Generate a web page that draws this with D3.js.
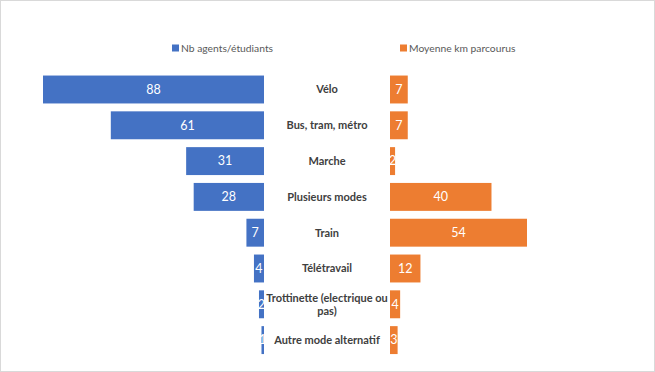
<!DOCTYPE html>
<html>
<head>
<meta charset="utf-8">
<script src="https://cdn.jsdelivr.net/npm/d3@7"></script>
<style>
  body { margin: 0; background: #fff; }
  svg { display: block; font-family: Lato, "Open Sans", sans-serif; }
</style>
</head>
<body>
<svg id="chart" width="655" height="372"></svg>
<script>
var categories = ["Vélo", "Bus, tram, métro", "Marche", "Plusieurs modes", "Train", "Télétravail", "Trottinette (electrique ou pas)", "Autre mode alternatif"];
var agents = [88, 61, 31, 28, 7, 4, 2, 1];
var kmMoyens = [7, 7, 2, 40, 54, 12, 4, 3];
var seriesNames = ["Nb agents/étudiants", "Moyenne km parcourus"];
var colors = ["#4472C4", "#ED7D31"];

var svg = d3.select("#chart");
var width = 655, height = 372;

// bordure du graphique
svg.append("rect")
  .attr("x", 0.5).attr("y", 0.5)
  .attr("width", width - 1).attr("height", height - 1)
  .attr("fill", "#fff")
  .attr("stroke", "#d9d9d9");

var y = d3.scaleBand()
  .domain(categories)
  .range([71.6, 358])
  .paddingInner(0.22)
  .paddingOuter(0.11);

var xLeft = d3.scaleLinear().domain([0, 88]).range([264, 43]);
var xRight = d3.scaleLinear().domain([0, 54]).range([390, 527]);

var data = categories.map((c, i) => ({cat: c, a: agents[i], km: kmMoyens[i]}));

// barres gauche
svg.append("g").selectAll("rect")
  .data(data).join("rect")
  .attr("x", d => xLeft(d.a))
  .attr("y", d => y(d.cat))
  .attr("width", d => xLeft(0) - xLeft(d.a))
  .attr("height", y.bandwidth())
  .attr("fill", colors[0]);

svg.append("g").selectAll("text")
  .data(data).join("text")
  .attr("x", d => (xLeft(0) + xLeft(d.a)) / 2)
  .attr("y", d => y(d.cat) + y.bandwidth() / 2)
  .attr("dy", "0.35em")
  .attr("text-anchor", "middle")
  .attr("fill", "#fff")
  .attr("font-size", 12.5)
  .text(d => d.a);

// barres droite
svg.append("g").selectAll("rect")
  .data(data).join("rect")
  .attr("x", xRight(0))
  .attr("y", d => y(d.cat))
  .attr("width", d => xRight(d.km) - xRight(0))
  .attr("height", y.bandwidth())
  .attr("fill", colors[1]);

svg.append("g").selectAll("text")
  .data(data).join("text")
  .attr("x", d => (xRight(0) + xRight(d.km)) / 2)
  .attr("y", d => y(d.cat) + y.bandwidth() / 2)
  .attr("dy", "0.35em")
  .attr("text-anchor", "middle")
  .attr("fill", "#fff")
  .attr("font-size", 12.5)
  .text(d => d.km);

// libellés des catégories
var labels = svg.append("g").selectAll("text")
  .data(data).join("text")
  .attr("x", 327)
  .attr("y", d => y(d.cat) + y.bandwidth() / 2)
  .attr("text-anchor", "middle")
  .attr("fill", "#404040")
  .attr("font-size", 11)
  .attr("font-weight", "bold");

labels.each(function(d) {
  var t = d3.select(this);
  var lines = d.cat.length > 24 ? ["Trottinette (electrique ou", "pas)"] : [d.cat];
  lines.forEach((l, i) => {
    t.append("tspan")
      .attr("x", 327)
      .attr("dy", i == 0 ? (0.35 - (lines.length - 1) * 0.6) + "em" : "1.2em")
      .text(l);
  });
});

// légende
var legend = svg.append("g").selectAll("g")
  .data(seriesNames).join("g")
  .attr("transform", (d, i) => `translate(${i == 0 ? 172 : 400},48)`);

legend.append("rect")
  .attr("x", 0).attr("y", -3.5)
  .attr("width", 7).attr("height", 7)
  .attr("fill", (d, i) => colors[i]);

legend.append("text")
  .attr("x", 9)
  .attr("dy", "0.35em")
  .attr("fill", "#595959")
  .attr("font-size", 10.3)
  .text(d => d);
</script>
</body>
</html>
